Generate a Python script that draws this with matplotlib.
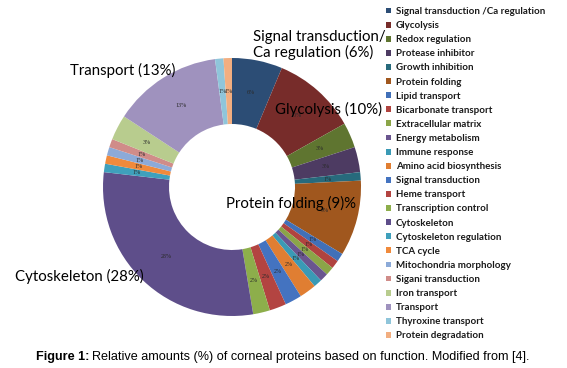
import numpy as np
import matplotlib
matplotlib.use("Agg")
import matplotlib.pyplot as plt

# categories in drawing order (clockwise from 12 o'clock)
categories = [
    "Signal transduction /Ca regulation", "Glycolysis", "Redox regulation",
    "Protease inhibitor", "Growth inhibition", "Protein folding",
    "Lipid transport", "Bicarbonate transport", "Extracellular matrix",
    "Energy metabolism", "Immune response", "Amino acid biosynthesis",
    "Signal transduction", "Heme transport", "Transcription control",
    "Cytoskeleton", "Cytoskeleton regulation", "TCA cycle",
    "Mitochondria morphology", "Sigani transduction", "Iron transport",
    "Transport", "Thyroxine transport", "Protein degradation",
]
percent = [6, 10, 3, 3, 1, 9, 1, 1, 1, 1, 1, 2, 2, 2, 2, 28, 1, 1, 1, 1, 3, 13, 1, 1]

colors = [
    "#2C4D75", "#772C2A", "#5F7530", "#4D3B62", "#276A7C", "#A0571E",
    "#4170B8", "#B0433F", "#8BA548", "#6A558F", "#3A9AB5", "#E07E32",
    "#4473C0", "#B34441", "#8DAE4B", "#5E4E8A", "#3FA0BC", "#F08A3C",
    "#8CAAD8", "#D08C89", "#B8CC8E", "#9F92BE", "#8FC5DA", "#F2AE80",
]

callouts = [
    ("Signal transduction/\nCa regulation (6%)", 253, 45),
    ("Glycolysis (10%)", 275, 109),
    ("Transport (13%)", 70, 70),
    ("Protein folding (9)%", 226, 203),
    ("Cytoskeleton (28%)", 15, 276),
]

W, H = 567, 368
fig = plt.figure(figsize=(W / 100, H / 100), dpi=100)
ax = fig.add_axes([0, 0, 1, 1])

R_OUT, R_IN = 129, 63
cx, cy = 232, H - 187
wedges, _ = ax.pie(percent, colors=colors, startangle=90, counterclock=False,
                   center=(cx, cy), radius=R_OUT,
                   wedgeprops=dict(width=R_OUT - R_IN, linewidth=0))
ax.set_xlim(0, W)
ax.set_ylim(0, H)
ax.set_aspect("equal")
ax.axis("off")

# small value labels inside the ring
r_mid = (R_OUT + R_IN) / 2
for w, p in zip(wedges, percent):
    ang = np.deg2rad((w.theta1 + w.theta2) / 2)
    ax.text(cx + r_mid * np.cos(ang), cy + r_mid * np.sin(ang), f"{p}%",
            ha="center", va="center", fontsize=4.3, color="#2a2a2a",
            family="Liberation Serif")

# callout labels
for txt, x, y in callouts:
    fig.text(x / W, 1 - y / H, txt, ha="left", va="center", fontsize=10.8,
             family="Lato", color="black", linespacing=1.05)

# legend on the right
leg = ax.legend(wedges, categories, loc="upper left",
                bbox_to_anchor=(386 / W, 1 - 7 / H), frameon=False,
                prop=dict(family="Lato", weight="bold", size=7),
                handlelength=0.55, handleheight=0.55, handletextpad=0.45,
                labelspacing=0.525, borderpad=0, borderaxespad=0)
for t in leg.get_texts():
    t.set_color("#1a1a1a")

# caption
cap_y = 1 - 357 / H
t1 = fig.text(36 / W, cap_y, "Figure 1:", fontsize=9.1, weight="bold",
              family="Liberation Sans", va="center")
fig.canvas.draw()
bb = t1.get_window_extent()
fig.text(bb.x1 / W + 3 / W, cap_y,
         "Relative amounts (%) of corneal proteins based on function. Modified from [4].",
         fontsize=9.1, family="Liberation Sans", va="center")

fig.savefig("out.png", dpi=100)
